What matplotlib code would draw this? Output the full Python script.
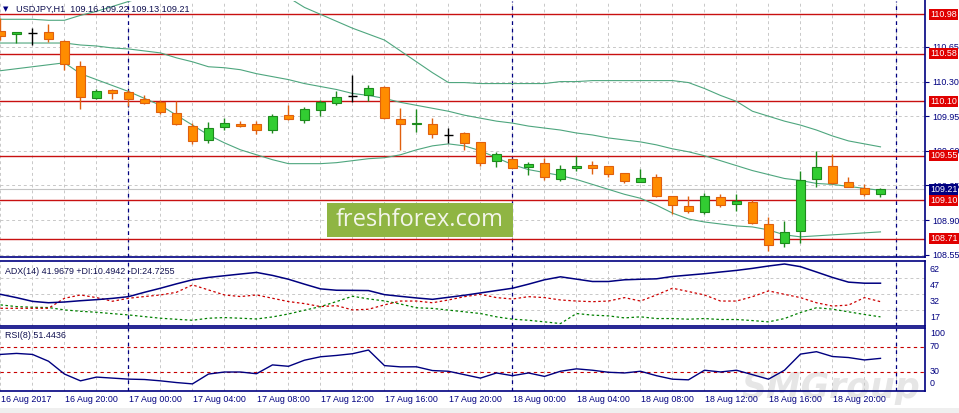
import numpy as np
import matplotlib
matplotlib.use("Agg")
import matplotlib.pyplot as plt
from matplotlib.patches import Rectangle
from matplotlib.transforms import blended_transform_factory, offset_copy

plt.rcParams['font.family'] = ['Liberation Sans', 'DejaVu Sans']

# ---------------- data ----------------
opens = [110.81, 110.78, 110.79, 110.80, 110.71, 110.46, 110.13, 110.21, 110.19, 110.12,
         110.09, 109.98, 109.85, 109.71, 109.84, 109.87, 109.87, 109.81, 109.96, 109.91,
         110.01, 110.08, 110.15, 110.16, 110.25, 109.92, 109.87, 109.87, 109.76, 109.78,
         109.69, 109.50, 109.52, 109.44, 109.48, 109.31, 109.43, 109.46, 109.45, 109.38,
         109.28, 109.33, 109.14, 109.04, 108.98, 109.13, 109.06, 109.08, 108.86, 108.67,
         108.79, 109.31, 109.45, 109.28, 109.22, 109.16]
highs = [110.94, 110.80, 110.84, 110.88, 110.72, 110.51, 110.22, 110.23, 110.21, 110.16,
         110.11, 110.10, 109.88, 109.89, 109.93, 109.90, 109.90, 109.97, 110.06, 110.04,
         110.11, 110.20, 110.37, 110.27, 110.26, 110.03, 110.02, 109.93, 109.83, 109.79,
         109.69, 109.59, 109.53, 109.49, 109.53, 109.46, 109.55, 109.50, 109.45, 109.38,
         109.42, 109.37, 109.14, 109.14, 109.17, 109.16, 109.16, 109.10, 108.93, 108.89,
         109.40, 109.60, 109.57, 109.34, 109.26, 109.22]
lows = [110.72, 110.69, 110.67, 110.70, 110.42, 110.02, 110.12, 110.12, 110.05, 110.07,
        109.97, 109.86, 109.67, 109.68, 109.81, 109.84, 109.77, 109.78, 109.91, 109.88,
        109.95, 110.06, 110.09, 110.10, 109.92, 109.61, 109.79, 109.73, 109.68, 109.61,
        109.45, 109.44, 109.43, 109.36, 109.30, 109.29, 109.40, 109.37, 109.33, 109.27,
        109.28, 109.13, 108.96, 108.97, 108.96, 109.03, 108.99, 108.86, 108.59, 108.63,
        108.67, 109.23, 109.26, 109.23, 109.14, 109.13]
closes = [110.76, 110.80, 110.79, 110.73, 110.48, 110.14, 110.20, 110.18, 110.12, 110.08,
          109.99, 109.87, 109.70, 109.83, 109.88, 109.85, 109.81, 109.95, 109.92, 110.02,
          110.09, 110.14, 110.15, 110.24, 109.93, 109.87, 109.88, 109.77, 109.76, 109.68,
          109.48, 109.57, 109.43, 109.47, 109.33, 109.42, 109.45, 109.43, 109.37, 109.29,
          109.32, 109.14, 109.05, 108.99, 109.14, 109.05, 109.09, 108.87, 108.65, 108.78,
          109.30, 109.44, 109.27, 109.23, 109.16, 109.21]

bb_upper = [110.93, 110.93, 110.93, 110.92, 110.92, 110.97, 111.01, 111.06, 111.11, 111.16,
            111.21, 111.25, 111.29, 111.32, 111.33, 111.32, 111.29, 111.25, 111.15, 111.05,
            110.98, 110.91, 110.84, 110.78, 110.72, 110.61, 110.50, 110.39, 110.29, 110.29,
            110.28, 110.28, 110.28, 110.28, 110.28, 110.30, 110.30, 110.31, 110.31, 110.31,
            110.31, 110.31, 110.31, 110.29, 110.23, 110.16, 110.10, 110.00, 109.95, 109.90,
            109.86, 109.81, 109.75, 109.70, 109.67, 109.64]
bb_middle = [110.69, 110.69, 110.69, 110.69, 110.69, 110.67, 110.66, 110.64, 110.63, 110.61,
             110.59, 110.54, 110.50, 110.45, 110.44, 110.42, 110.38, 110.35, 110.32, 110.28,
             110.25, 110.22, 110.18, 110.16, 110.13, 110.09, 110.06, 110.03, 110.00, 109.96,
             109.93, 109.90, 109.88, 109.85, 109.83, 109.81, 109.78, 109.76, 109.73, 109.71,
             109.69, 109.66, 109.62, 109.59, 109.55, 109.50, 109.45, 109.40, 109.36, 109.32,
             109.30, 109.27, 109.26, 109.24, 109.22, 109.20]
bb_lower = [110.41, 110.43, 110.45, 110.47, 110.49, 110.38, 110.32, 110.26, 110.20, 110.13,
            110.06, 109.96, 109.86, 109.76, 109.68, 109.61, 109.56, 109.51, 109.47, 109.47,
            109.47, 109.48, 109.50, 109.52, 109.53, 109.56, 109.61, 109.65, 109.67, 109.65,
            109.60, 109.53, 109.46, 109.41, 109.38, 109.35, 109.31, 109.26, 109.21, 109.16,
            109.12, 109.05, 108.97, 108.91, 108.88, 108.86, 108.84, 108.83, 108.80, 108.75,
            108.73, 108.74, 108.75, 108.76, 108.77, 108.78]

adx = [31.6, 28.5, 25.0, 23.7, 24.4, 25.6, 26.6, 27.8, 29.4, 33.5,
       37.3, 41.4, 45.2, 47.4, 49.0, 50.6, 52.1, 49.3, 45.7, 41.1,
       36.7, 35.4, 35.3, 35.1, 31.3, 29.7, 28.2, 26.9, 28.8, 30.7,
       32.9, 35.1, 37.3, 41.1, 45.2, 48.0, 45.8, 43.6, 43.6, 45.2,
       45.7, 46.1, 48.3, 49.6, 50.9, 52.5, 54.0, 55.9, 58.1, 60.0,
       57.5, 52.5, 47.4, 43.0, 42.0, 42.0]
plus_di = [21.7, 20.1, 19.5, 19.2, 17.0, 15.7, 14.8, 13.5, 12.3, 10.7,
           9.2, 8.2, 7.3, 9.2, 9.8, 9.2, 8.5, 10.4, 13.2, 16.7,
           20.1, 24.8, 29.8, 27.3, 25.4, 22.5, 19.0, 18.4, 16.8, 15.2,
           13.6, 10.5, 8.3, 7.3, 5.8, 4.2, 13.6, 12.1, 11.4, 9.5,
           10.5, 8.9, 8.9, 8.3, 8.9, 8.0, 8.0, 7.0, 5.8, 8.9,
           14.6, 19.0, 17.7, 15.2, 12.7, 10.5]
minus_di = [18.5, 18.5, 18.5, 18.5, 27.9, 31.0, 28.5, 25.1, 27.9, 29.5,
            31.0, 33.5, 40.4, 35.7, 31.0, 29.5, 31.0, 27.9, 24.8, 22.9,
            20.1, 21.0, 17.0, 17.6, 21.7, 25.3, 25.3, 23.7, 26.3, 29.4,
            31.6, 28.5, 27.2, 29.4, 28.5, 26.3, 25.3, 24.7, 25.3, 28.5,
            25.3, 31.0, 37.3, 34.2, 31.0, 25.3, 25.3, 29.4, 34.8, 31.6,
            28.5, 23.7, 20.6, 21.5, 28.5, 24.7]
rsi = [57.6, 59.2, 57.6, 46.9, 26.7, 16.0, 21.9, 20.3, 18.7, 18.1,
       16.0, 13.3, 11.2, 26.7, 29.9, 29.9, 27.2, 41.1, 38.9, 48.5,
       53.9, 56.0, 58.7, 64.5, 40.0, 38.0, 38.1, 32.2, 31.1, 25.7,
       20.3, 28.4, 24.1, 28.4, 23.0, 31.1, 34.9, 32.7, 29.5, 28.4,
       31.1, 24.1, 18.6, 17.6, 32.7, 30.0, 32.7, 25.7, 18.6, 32.7,
       58.1, 61.9, 54.3, 52.7, 48.9, 51.4]

x_labels = ['16 Aug 2017', '16 Aug 20:00', '17 Aug 00:00', '17 Aug 04:00', '17 Aug 08:00',
            '17 Aug 12:00', '17 Aug 16:00', '17 Aug 20:00', '18 Aug 00:00', '18 Aug 04:00',
            '18 Aug 08:00', '18 Aug 12:00', '18 Aug 16:00', '18 Aug 20:00']
price_ticks = [110.65, 110.30, 109.95, 109.60, 109.25, 108.90, 108.55]
level_lines = [110.98, 110.58, 110.10, 109.55, 109.10, 108.71]
last_price = 109.21
day_starts = [8, 32, 56]          # bars at 17 Aug 00:00, 18 Aug 00:00, 19 Aug 00:00
adx_levels = [62, 47, 32, 17]
rsi_levels = [70, 30]
rsi_labels = [100, 70, 30, 0]

# ---------------- style ----------------
W, H = 959, 413
NAVY = '#000080'
GRID = '#c8c8c8'
RED = '#c81010'
BOX_RED = '#e00000'
BAND = '#4ea67e'
BULL_FILL, BULL_EDGE = '#32cd32', '#1d8a1d'
BEAR_FILL, BEAR_EDGE = '#ff8c00', '#e0600e'

fig = plt.figure(figsize=(W / 100, H / 100), dpi=100)
fig.patch.set_facecolor('white')


def rect(top, bottom, left=0.0, right=925.0):
    return [left / W, 1 - bottom / H, (right - left) / W, (bottom - top) / H]


ax_main = fig.add_axes(rect(0.5, 257))
ax_adx = fig.add_axes(rect(261, 325.7))
ax_rsi = fig.add_axes(rect(327.5, 391))

n = len(opens)
x = np.arange(n)
XL = (-0.03, 925 / 16 - 0.03)

for ax in (ax_main, ax_adx, ax_rsi):
    ax.set_xlim(*XL)
    ax.set_facecolor('none')
    ax.spines['left'].set_visible(False)
    for s in ('top', 'right', 'bottom'):
        ax.spines[s].set_color(NAVY)
        ax.spines[s].set_linewidth(1.2)
    ax.tick_params(left=False, labelleft=False, bottom=False, labelbottom=False,
                   right=False, labelright=False)
    for g in np.arange(0, n + 2, 2):
        ax.axvline(g, color=GRID, lw=0.7, dashes=(3, 3), zorder=0)
    for d in day_starts:
        ax.axvline(d, color=NAVY, lw=0.9, dashes=(3, 3), zorder=1)
ax_main.spines['top'].set_visible(False)

# ---------------- main panel ----------------
ax_main.set_ylim(108.526, 111.120)
for p in price_ticks:
    ax_main.axhline(p, color=GRID, lw=0.7, dashes=(3, 3), zorder=0)
ax_main.axhline(last_price, color='#c4c4c4', lw=0.8, zorder=1.5)
for p in level_lines:
    ax_main.axhline(p, color=RED, lw=1.0, zorder=2)

for band in (bb_upper, bb_middle, bb_lower):
    ax_main.plot(x, band, color=BAND, lw=0.8, zorder=2.5)

o = np.array(opens); c = np.array(closes); hi = np.array(highs); lo = np.array(lows)
bull = c > o
doji = c == o
wick_cols = np.where(doji, 'black', np.where(bull, BULL_EDGE, BEAR_EDGE))
ax_main.vlines(x, lo, hi, colors=wick_cols, lw=1.0, zorder=3)
body = ~doji
ax_main.bar(x[body], np.abs(c - o)[body], bottom=np.minimum(o, c)[body], width=0.62,
            color=np.where(bull, BULL_FILL, BEAR_FILL)[body],
            edgecolor=np.where(bull, BULL_EDGE, BEAR_EDGE)[body], linewidth=0.8, zorder=4)
ax_main.hlines(o[doji], x[doji] - 0.31, x[doji] + 0.31, colors='black', lw=1.0, zorder=4)

ax_main.yaxis.tick_right()
ax_main.set_yticks(price_ticks)
ax_main.set_yticklabels([f'{p:.2f}' for p in price_ticks])
ax_main.tick_params(axis='y', right=True, labelright=True, length=3, width=0.8,
                    color=NAVY, labelcolor=NAVY, labelsize=6.4, pad=2.5)

trm = blended_transform_factory(ax_main.transAxes, ax_main.transData)
for p in level_lines:
    ax_main.text(930 / 925, p, f'{p:.2f}', transform=trm, ha='left', va='center',
                 fontsize=6.4, color='white', zorder=10, clip_on=False,
                 bbox=dict(boxstyle='square,pad=0.12', fc=BOX_RED, ec='none'))
ax_main.text(930 / 925, last_price, f'{last_price:.2f}', transform=trm, ha='left',
             va='center', fontsize=6.4, color='white', zorder=11, clip_on=False,
             bbox=dict(boxstyle='square,pad=0.12', fc=NAVY, ec='none'))

# ---------------- ADX panel ----------------
ax_adx.set_ylim(2.2, 62.8)
for lv in adx_levels[1:]:
    ax_adx.axhline(lv, color=GRID, lw=0.7, dashes=(3, 3), zorder=0)
ax_adx.plot(x, plus_di, color='#008000', lw=0.9, dashes=(2, 2), zorder=3)
ax_adx.plot(x, minus_di, color='#cc0000', lw=0.9, dashes=(2, 2), zorder=3)
ax_adx.plot(x, adx, color=NAVY, lw=1.1, zorder=4)
tra = blended_transform_factory(ax_adx.transAxes, ax_adx.transData)
for lv in adx_levels:
    ax_adx.text(930 / 925, lv, str(lv), ha='left', va='center', fontsize=6.4, color=NAVY,
                clip_on=False, transform=offset_copy(tra, fig=fig, y=-8, units='dots'))

# ---------------- RSI panel ----------------
ax_rsi.set_ylim(0, 100)
for lv in rsi_levels:
    ax_rsi.axhline(lv, color='#c80000', lw=0.8, dashes=(3, 3), zorder=1)
ax_rsi.plot(x, rsi, color=NAVY, lw=1.0, zorder=4)
trr = blended_transform_factory(ax_rsi.transAxes, ax_rsi.transData)
rsi_offsets = [-6, 0, 0, 8]
for lv, off in zip(rsi_labels, rsi_offsets):
    ax_rsi.text(930 / 925, lv, str(lv), ha='left', va='center', fontsize=6.4, color=NAVY,
                clip_on=False, transform=offset_copy(trr, fig=fig, y=off, units='dots'))

# x labels under RSI
trx = offset_copy(blended_transform_factory(ax_rsi.transData, ax_rsi.transAxes),
                  fig=fig, x=1, y=-9, units='dots')
for i, lab in zip(np.arange(0, n, 4), x_labels):
    ax_rsi.text(i, 0, lab, transform=trx, ha='left', va='center', fontsize=6.4,
                color=NAVY, clip_on=False)

# ---------------- texts / decorations ----------------
fig.text(3 / W, 1 - 9.5 / H, '\u25BC', fontsize=5, color=NAVY, va='center',
         family=['DejaVu Sans'])
fig.text(16 / W, 1 - 9 / H, 'USDJPY,H1  109.16 109.22 109.13 109.21', fontsize=6.6,
         color='#101050', va='center')
fig.text(5 / W, 1 - 271 / H, 'ADX(14) 41.9679 +DI:10.4942 -DI:24.7255', fontsize=6.4,
         color='#101050', va='center')
fig.text(5 / W, 1 - 336 / H, 'RSI(8) 51.4436', fontsize=6.4, color='#101050', va='center')

fig.add_artist(Rectangle((326.7 / W, 1 - 236.7 / H), 186 / W, 33.4 / H,
                         transform=fig.transFigure, fc='#8fb543', ec='none', zorder=5))
fig.text(420 / W, 1 - 220 / H, 'freshforex.com', ha='center', va='center', fontsize=17,
         color='#f3f5ea', family=['Open Sans', 'DejaVu Sans'], zorder=6)

fig.text(741 / W, 1 - 398 / H, 'SMGroup', fontsize=25, fontweight='bold', style='italic',
         color='#e6e6e6', va='baseline', family=['DejaVu Sans'], zorder=-1)
fig.add_artist(Rectangle((0, 0), 1, 5.5 / H, transform=fig.transFigure,
                         fc='#efefef', ec='none', zorder=-2))

fig.savefig('out.png', dpi=100)
